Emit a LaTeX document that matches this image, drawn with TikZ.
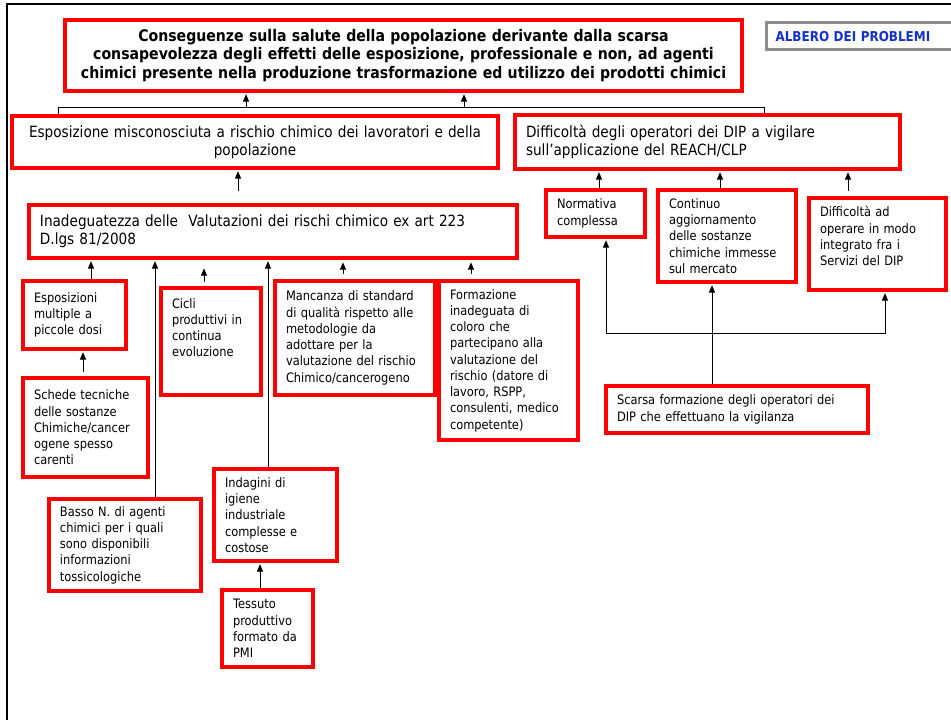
\documentclass[tikz,border=0pt]{standalone}
\usepackage{fontspec}
\setmainfont[FakeStretch=0.88]{DejaVu Sans}
\usetikzlibrary{arrows.meta}
\definecolor{boxred}{RGB}{255,0,0}
\definecolor{albblue}{RGB}{20,50,200}
\definecolor{albgray}{RGB}{140,140,140}
\newcommand\fsmall{\fontsize{9.75pt}{12.2pt}\selectfont}
\newcommand\fbig{\fontsize{11.6pt}{13.7pt}\selectfont}
\newcommand\ftitle{\fontsize{12pt}{13.8pt}\selectfont\bfseries}
\newcommand\rbox[7][]{%
  \pgfmathsetlengthmacro\rboxtw{(#5-22)*0.75pt}%
  \node[redbox,minimum width=#5*0.75pt,minimum height=#6*0.75pt,text width=\rboxtw,#1] (#2) at ({#3+#5/2},{#4+#6/2}) {#7};}
\begin{document}
\begin{tikzpicture}[x=0.75pt,y=-0.75pt,
  redbox/.style={draw=boxred,line width=2.8pt,fill=white,inner xsep=8.25pt,inner ysep=0pt,align=left,font=\fsmall,text=black},
  conn/.style={line width=0.75pt,black},
  arr/.style={conn,-{Triangle[length=5.5pt,width=4.5pt]},shorten >=1pt}]
\useasboundingbox (0,0) rectangle (951,720);
\fill[white] (0,0) rectangle (951,720);
\draw[line width=1.8pt] (7,740) -- (7,4) -- (970,4);

% label box
\node[draw=albgray,line width=2.4pt,fill=white,anchor=north west,minimum width=200*0.75pt,minimum height=27*0.75pt,
      text width=185*0.75pt,inner xsep=9*0.75pt,inner ysep=0pt,align=left,text=albblue,
      font=\fontsize{10.2pt}{11pt}\selectfont\bfseries] (alb) at (765,21) {ALBERO DEI PROBLEMI};

% boxes
\rbox[align=center,font=\ftitle]{T}{65}{20}{677}{71}{Conseguenze sulla salute della popolazione derivante dalla scarsa\\consapevolezza degli effetti delle esposizione, professionale e non, ad agenti\\chimici presente nella produzione trasformazione ed utilizzo dei prodotti chimici}
\rbox[align=center,font=\fbig]{A}{12}{116}{486}{52}{Esposizione misconosciuta a rischio chimico dei lavoratori e della\\popolazione}
\rbox[font=\fbig]{B}{515}{115}{385}{54}{Difficoltà degli operatori dei DIP a vigilare\\sull’applicazione del REACH/CLP}
\rbox[font=\fbig]{C}{29}{205}{488}{53}{Inadeguatezza delle~ Valutazioni dei rischi chimico ex art 223\\D.lgs 81/2008}

\rbox{EM}{23}{281}{103}{68}{Esposizioni\\multiple a\\piccole dosi}
\rbox{SC}{23}{378}{125}{99}{Schede tecniche\\delle sostanze\\Chimiche/cancer\\ogene spesso\\carenti}
\rbox{BN}{49}{499}{152}{92}{Basso N. di agenti\\chimici per i quali\\sono disponibili\\informazioni\\tossicologiche}
\rbox{CP}{161}{288}{100}{107}{Cicli\\produttivi in\\continua\\evoluzione\rule[-21pt]{0pt}{0pt}}
\rbox{MS}{275}{281}{160}{114}{Mancanza di standard\\di qualità rispetto alle\\metodologie da\\adottare per la\\valutazione del rischio\\Chimico/cancerogeno}
\rbox{FI}{439}{281}{139}{159}{Formazione\\inadeguata di\\coloro che\\partecipano alla\\valutazione del\\rischio (datore di\\lavoro, RSPP,\\consulenti, medico\\competente)}
\rbox{IG}{214}{469}{123}{92}{Indagini di\\igiene\\industriale\\complesse e\\costose}
\rbox{TP}{222}{590}{91}{77}{Tessuto\\produttivo\\formato da\\PMI}
\rbox{NC}{546}{190}{99}{47}{Normativa\\complessa}
\rbox{CA}{658}{190}{138}{92}{Continuo\\aggiornamento\\delle sostanze\\chimiche immesse\\sul mercato}
\rbox{DO}{809}{198}{137}{92}{Difficoltà ad\\operare in modo\\integrato fra i\\Servizi del DIP\rule[-12pt]{0pt}{0pt}}
\rbox{SF}{606}{386}{262}{47}{Scarsa formazione degli operatori dei\\DIP che effettuano la vigilanza}

% connectors
\coordinate (barL) at (58,108);
\coordinate (barR) at (764,108);
\coordinate (tA) at (246,108);
\coordinate (tB) at (464,108);
\draw[conn] (A.north -| barL) -- (barL) -- (barR) -- (B.north -| barR);
\draw[arr] (tA) -- (tA |- T.south);
\draw[arr] (tB) -- (tB |- T.south);

\coordinate (ca) at (238,191);
\draw[arr] (ca) -- (ca |- A.south);

\coordinate (nb) at (599,0);
\coordinate (cb) at (720,0);
\coordinate (db) at (848,191);
\draw[arr] (nb |- NC.north) -- (nb |- B.south);
\draw[arr] (cb |- CA.north) -- (cb |- B.south);
\draw[arr] (db) -- (db |- B.south);

\coordinate (e1) at (91,0);
\coordinate (e2) at (155,0);
\coordinate (e4) at (268,0);
\draw[arr] (e1 |- EM.north) -- (e1 |- C.south);
\draw[arr] (e2 |- BN.north) -- (e2 |- C.south);
\draw[arr] (e4 |- IG.north) -- (e4 |- C.south);
\coordinate (e3t) at (204,282);
\coordinate (e3h) at (204,267);
\draw[arr] (e3t) -- (e3h);
\coordinate (e5t) at (343,274);
\coordinate (e5h) at (343,261);
\draw[arr] (e5t) -- (e5h);
\coordinate (e6t) at (471,274);
\coordinate (e6h) at (471,261);
\draw[arr] (e6t) -- (e6h);

\coordinate (s1) at (83,372);
\draw[arr] (s1) -- (s1 |- EM.south);
\coordinate (tp) at (260,0);
\draw[arr] (tp |- TP.north) -- (tp |- IG.south);

\coordinate (sf) at (712,0);
\draw[arr] (sf |- SF.north) -- (sf |- CA.south);
\coordinate (j1) at (606,334);
\coordinate (j2) at (885,334);
\draw[conn] (j1) -- (j2);
\draw[arr] (j1) -- (j1 |- NC.south);
\draw[arr] (j2) -- (j2 |- DO.south);
\end{tikzpicture}
\end{document}
